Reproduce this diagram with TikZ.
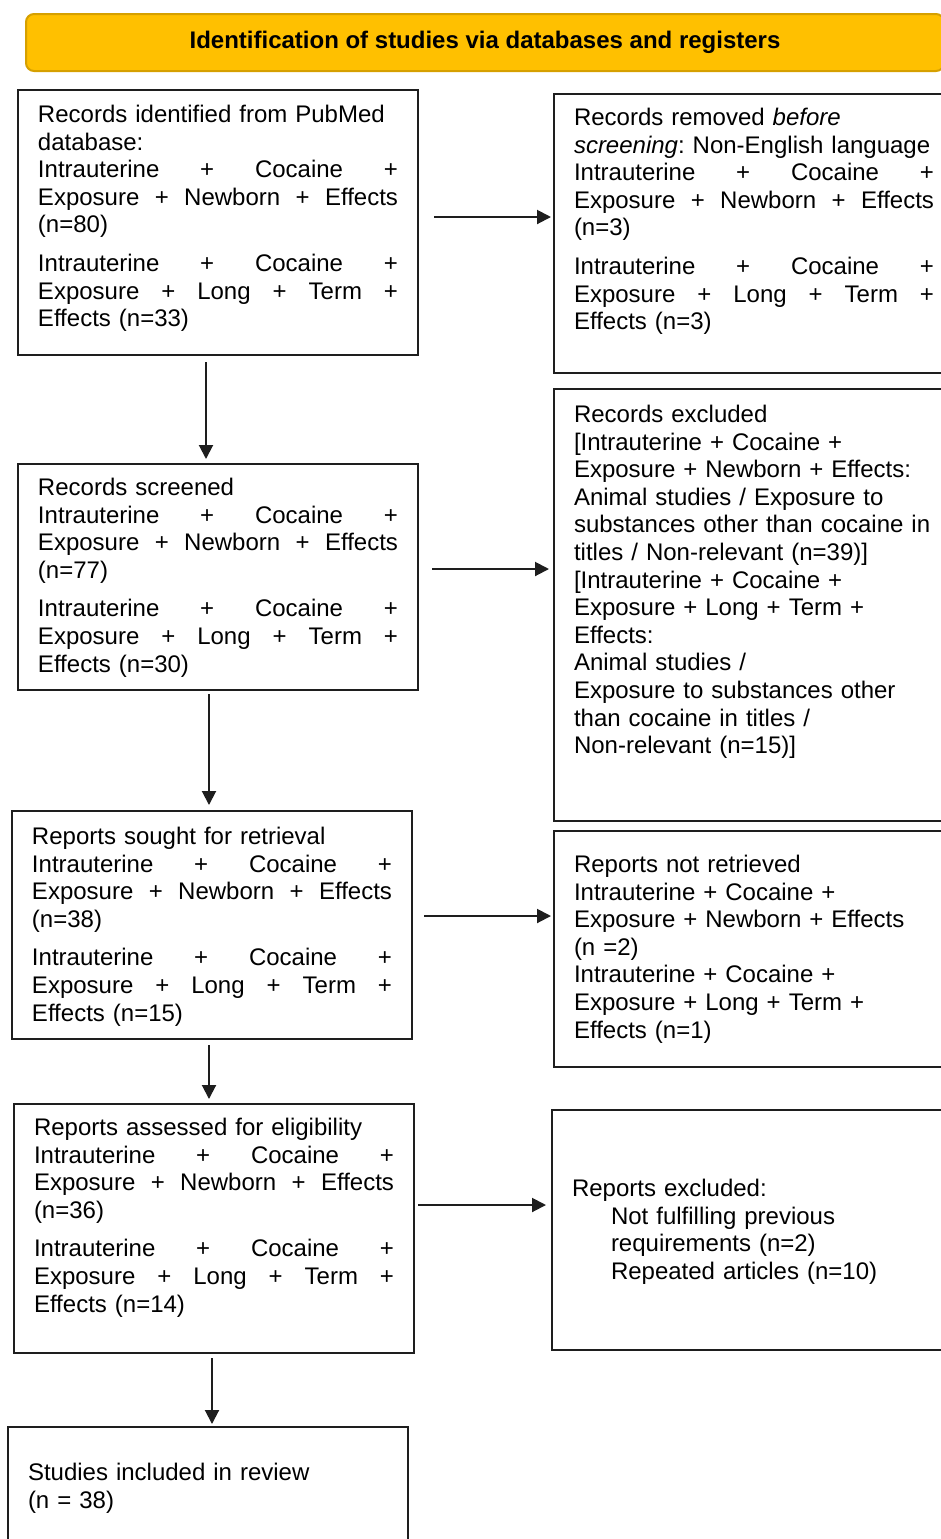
\documentclass[tikz,border=0pt]{standalone}
\usepackage{fontspec}
\setmainfont{Liberation Sans}
\frenchspacing
\definecolor{prismagold}{RGB}{255,192,0}
\definecolor{prismaedge}{RGB}{214,160,0}
\definecolor{boxline}{RGB}{30,30,30}
\usetikzlibrary{shapes,arrows,arrows.meta,positioning,calc}
\newcommand{\fullline}[1]{\makebox[\hsize][s]{\spaceskip=.278em plus 1fil\relax #1}}

\begin{document}
\begin{tikzpicture}[x=0.5pt, y=-0.5pt,
    flowbox/.style={draw=boxline, line width=1pt, anchor=north west, inner xsep=10pt, inner ysep=0pt,
        text width=180pt, font=\fontsize{12pt}{13.8pt}\selectfont},
    flowarrow/.style={draw=boxline, line width=1pt, -{Triangle[length=7pt,width=7pt]}},
    header/.style={draw=prismaedge, fill=prismagold, line width=1pt, rounded corners=4pt, anchor=north west,
        minimum width=459pt, minimum height=28.5pt, font=\fontsize{12pt}{13.8pt}\selectfont\bfseries}]
    \useasboundingbox (0,0) rectangle (941,1539);

    \node[header] (hdr) at (25,13) {Identification of studies via databases and registers};

    % left column
    \node[flowbox, text height=16.25pt, text depth=116.25pt] (ident) at (17,89) {Records identified from PubMed\\
        database:\\
        \fullline{Intrauterine + Cocaine +}\\
        \fullline{Exposure + Newborn + Effects}\\
        (n=80)\\[5.5pt]
        \fullline{Intrauterine + Cocaine +}\\
        \fullline{Exposure + Long + Term +}\\
        Effects (n=33)};
    \node[flowbox, text height=15.75pt, text depth=97.25pt] (screened) at (17,463) {Records screened\\
        \fullline{Intrauterine + Cocaine +}\\
        \fullline{Exposure + Newborn + Effects}\\
        (n=77)\\[5.5pt]
        \fullline{Intrauterine + Cocaine +}\\
        \fullline{Exposure + Long + Term +}\\
        Effects (n=30)};
    \node[flowbox, text height=16.75pt, text depth=97.25pt] (sought) at (11,810) {Reports sought for retrieval\\
        \fullline{Intrauterine + Cocaine +}\\
        \fullline{Exposure + Newborn + Effects}\\
        (n=38)\\[5.5pt]
        \fullline{Intrauterine + Cocaine +}\\
        \fullline{Exposure + Long + Term +}\\
        Effects (n=15)};
    \node[flowbox, text height=15.75pt, text depth=108.75pt] (assessed) at (13,1103) {Reports assessed for eligibility\\
        \fullline{Intrauterine + Cocaine +}\\
        \fullline{Exposure + Newborn + Effects}\\
        (n=36)\\[5.5pt]
        \fullline{Intrauterine + Cocaine +}\\
        \fullline{Exposure + Long + Term +}\\
        Effects (n=14)};
    \node[flowbox, text height=26.75pt, text depth=53.25pt] (incl) at (7,1426) {Studies included in review\\
        (n = 38)};

    % right column
    \node[flowbox, text height=15.75pt, text depth=123.75pt] (removed) at (553,93) {Records removed \textit{before}\\
        \textit{screening}: Non-English language\\
        \fullline{Intrauterine + Cocaine +}\\
        \fullline{Exposure + Newborn + Effects}\\
        (n=3)\\[5.5pt]
        \fullline{Intrauterine + Cocaine +}\\
        \fullline{Exposure + Long + Term +}\\
        Effects (n=3)};
    \node[flowbox, text height=16.75pt, text depth=199.25pt] (excluded) at (553,388) {Records excluded\\
        {[}Intrauterine + Cocaine +\\
        Exposure + Newborn + Effects:\\
        Animal studies / Exposure to\\
        substances other than cocaine in\\
        titles / Non-relevant (n=39)]\\
        {[}Intrauterine + Cocaine +\\
        Exposure + Long + Term +\\
        Effects:\\
        Animal studies /\\
        Exposure to substances other\\
        than cocaine in titles /\\
        Non-relevant (n=15)]};
    \node[flowbox, text height=20.75pt, text depth=97.25pt] (notretr) at (553,830) {Reports not retrieved\\
        Intrauterine + Cocaine +\\
        Exposure + Newborn + Effects\\
        (n =2)\\
        Intrauterine + Cocaine +\\
        Exposure + Long + Term +\\
        Effects (n=1)};
    \node[flowbox, text height=43.25pt, text depth=76.75pt] (rexcl) at (551,1109) {Reports excluded:\\
        \hspace*{19.5pt}Not fulfilling previous\\
        \hspace*{19.5pt}requirements (n=2)\\
        \hspace*{19.5pt}Repeated articles (n=10)};

    % arrows down
    \draw[flowarrow, shorten <=3pt, shorten >=2pt] ([xshift=-6pt]ident.south) -- ([xshift=-6pt]ident.south |- screened.north);
    \draw[flowarrow, shorten <=1.5pt, shorten >=2.5pt] ([xshift=-4.5pt]screened.south) -- ([xshift=-4.5pt]screened.south |- sought.north);
    \draw[flowarrow, shorten <=2.5pt, shorten >=2pt] ([xshift=-1.5pt]sought.south) -- ([xshift=-1.5pt]sought.south |- assessed.north);
    \draw[flowarrow, shorten <=2pt, shorten >=1pt] ([xshift=-1pt]assessed.south) -- ([xshift=-1pt]assessed.south |- incl.north);

    % arrows right
    \draw[flowarrow, shorten <=7.5pt, shorten >=1pt] ([yshift=2.75pt]ident.east) -- ([yshift=2.75pt]ident.east -| removed.west);
    \draw[flowarrow, shorten <=6.5pt, shorten >=2pt] ([yshift=4pt]screened.east) -- ([yshift=4pt]screened.east -| excluded.west);
    \draw[flowarrow, shorten <=5.5pt, shorten >=1pt] ([yshift=4.5pt]sought.east) -- ([yshift=4.5pt]sought.east -| notretr.west);
    \draw[flowarrow, shorten <=1.5pt, shorten >=2.5pt] ([yshift=11.75pt]assessed.east) -- ([yshift=11.75pt]assessed.east -| rexcl.west);
\end{tikzpicture}
\end{document}
